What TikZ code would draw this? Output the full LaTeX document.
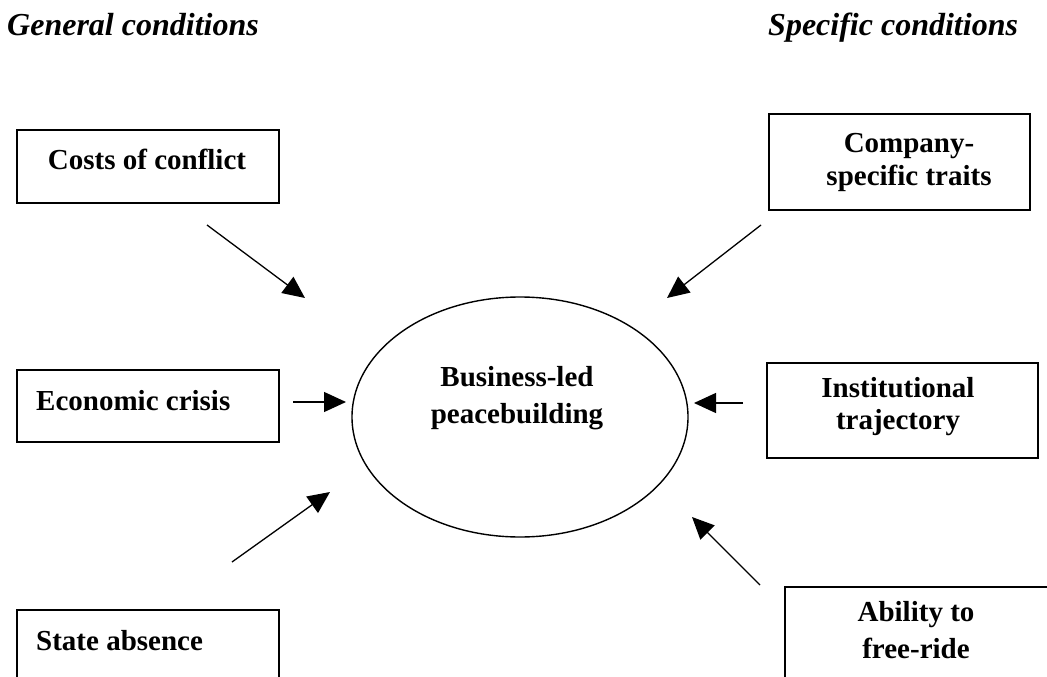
\documentclass[tikz,border=0pt]{standalone}
\usepackage{fontspec}
\setmainfont{Liberation Serif}
\usetikzlibrary{shapes.geometric,arrows.meta}
\begin{document}
\begin{tikzpicture}[x=1pt,y=-1pt,
  box/.style={draw,line width=1.8pt,rectangle,inner sep=0pt,anchor=north west},
  lbl/.style={anchor=base,inner sep=0pt,font=\fontsize{29}{37}\selectfont\bfseries},
  lbll/.style={anchor=base west,inner sep=0pt,font=\fontsize{29}{37}\selectfont\bfseries},
  head/.style={anchor=base west,inner sep=0pt,font=\fontsize{32}{38}\selectfont\bfseries\itshape},
  arr/.style={line width=1.3pt,-{Triangle[length=22pt,width=20pt]}}]
\useasboundingbox (0,0) rectangle (1047,677);
% headings
\node[head] (hg) at (7,36) {General conditions};
\node[head] (hs) at (768,36) {Specific conditions};
% left boxes
\node[box,minimum width=262pt,minimum height=73pt] (costs) at (16,129) {};
\node[lbl] (costst) at (147,169) {Costs of conflict};
\node[box,minimum width=262pt,minimum height=72pt] (econ) at (16,369) {};
\node[lbll] (econt) at (36,410) {Economic crisis};
\node[box,minimum width=262pt,minimum height=90pt] (state) at (16,609) {};
\node[lbll] (statet) at (36,650) {State absence};
% right boxes
\node[box,minimum width=261pt,minimum height=96pt] (comp) at (768,113) {};
\node[lbl] (compt1) at (909,152) {Company-};
\node[lbl] (compt2) at (909,185) {specific traits};
\node[box,minimum width=271pt,minimum height=95pt] (inst) at (766,362) {};
\node[lbl] (instt1) at (898,397) {Institutional};
\node[lbl] (instt2) at (898,429) {trajectory};
\node[box,minimum width=290pt,minimum height=110pt] (abil) at (784,586) {};
\node[lbl] (abilt1) at (916,621) {Ability to};
\node[lbl] (abilt2) at (916,658) {free-ride};
% centre
\node[ellipse,draw,line width=1.4pt,minimum width=336pt,minimum height=240pt,inner sep=0pt] (bl) at (520,417) {};
\node[lbl] (blt1) at (517,386) {Business-led};
\node[lbl] (blt2) at (517,423) {peacebuilding};
% arrow endpoints
\coordinate (a1s) at (207,225); \coordinate (a1e) at (305,298);
\coordinate (a2s) at (293,402); \coordinate (a2e) at (346,402);
\coordinate (a3s) at (232,562); \coordinate (a3e) at (330,492);
\coordinate (a4s) at (761,225); \coordinate (a4e) at (667,298);
\coordinate (a5s) at (743,403); \coordinate (a5e) at (694,403);
\coordinate (a6s) at (760,585); \coordinate (a6e) at (692,517);
\draw[arr] (a1s) -- (a1e);
\draw[arr] (a2s) -- (a2e);
\draw[arr] (a3s) -- (a3e);
\draw[arr] (a4s) -- (a4e);
\draw[arr] (a5s) -- (a5e);
\draw[arr] (a6s) -- (a6e);
\end{tikzpicture}
\end{document}
